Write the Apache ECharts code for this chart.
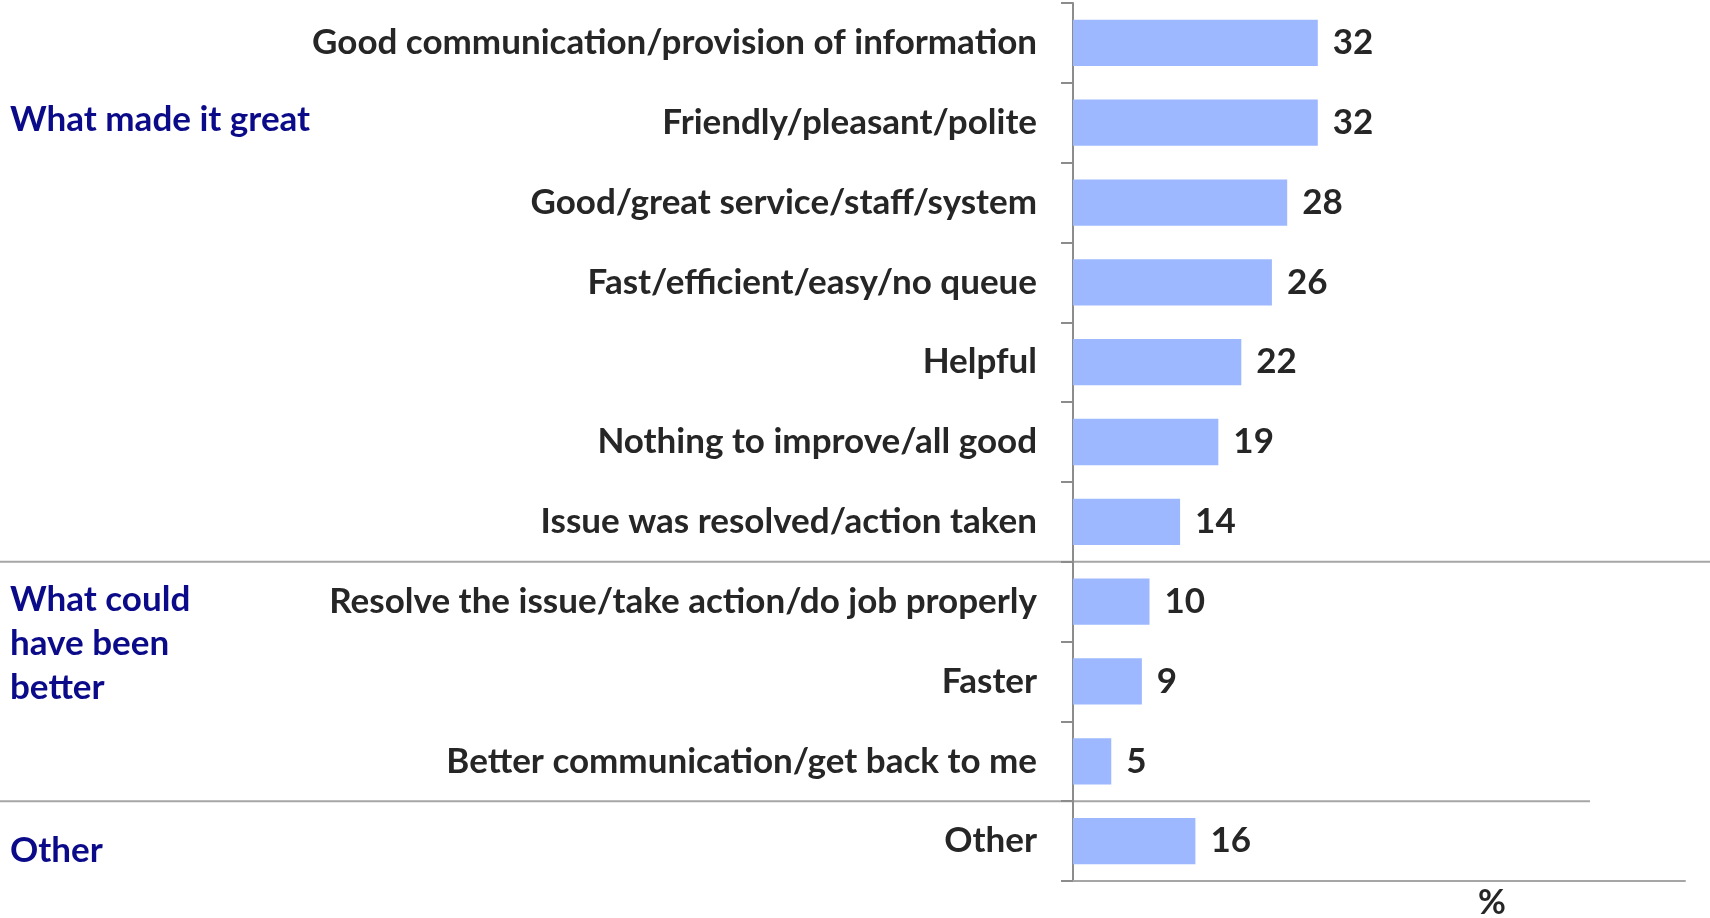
<!DOCTYPE html>
<html>
<head>
<meta charset="utf-8">
<title>What made it great</title>
<script src="https://cdn.jsdelivr.net/npm/echarts@6/dist/echarts.min.js"></script>
<style>
  html, body { margin: 0; padding: 0; background: #fff; }
  #chart { width: 1710px; height: 918px; }
</style>
</head>
<body>
<div id="chart"></div>
<script>
// categories, top to bottom
const categories = [
  'Good communication/provision of information',
  'Friendly/pleasant/polite',
  'Good/great service/staff/system',
  'Fast/efficient/easy/no queue',
  'Helpful',
  'Nothing to improve/all good',
  'Issue was resolved/action taken',
  'Resolve the issue/take action/do job properly',
  'Faster',
  'Better communication/get back to me',
  'Other'
];
const values = [32, 32, 28, 26, 22, 19, 14, 10, 9, 5, 16];

// group headings and the last category index of each group
const groupNames = ['What made it great', 'What could\nhave been\nbetter', 'Other'];
const groupEnds = [6, 9, 10];

const FONT = 'Lato, "Open Sans", sans-serif';
const textColor = '#262626';
const groupColor = '#0b0b8a';

const chart = echarts.init(document.getElementById('chart'));

const option = {
  animation: false,
  grid: {
    left: 1073,
    right: 25,
    top: 3,
    bottom: 37,
    containLabel: false
  },
  xAxis: {
    type: 'value',
    min: 0,
    max: 80,
    axisLine: { show: true, lineStyle: { color: '#a6a6a6', width: 2 } },
    axisTick: { show: false },
    axisLabel: { show: false },
    splitLine: { show: false }
  },
  yAxis: {
    type: 'category',
    inverse: true,
    data: categories,
    axisLine: { show: true, lineStyle: { color: '#8c8c8c', width: 2 } },
    axisTick: { show: true, length: 12, lineStyle: { color: '#8c8c8c', width: 2 } },
    axisLabel: {
      margin: 36,
      color: textColor,
      fontFamily: FONT,
      fontWeight: 'bold',
      fontSize: 35
    }
  },
  series: [{
    type: 'bar',
    data: values,
    barCategoryGap: '42%',
    itemStyle: { color: '#9db8fe' },
    label: {
      show: true,
      position: 'right',
      distance: 15,
      color: textColor,
      fontFamily: FONT,
      fontWeight: 'bold',
      fontSize: 35
    }
  }]
};

chart.setOption(option);

// separators between groups and group headings
function boundaryY(i) {
  const a = chart.convertToPixel({ yAxisIndex: 0 }, categories[i]);
  const b = chart.convertToPixel({ yAxisIndex: 0 }, categories[i + 1]);
  return (a + b) / 2;
}

const graphics = [];
graphics.push({
  type: 'line',
  shape: { x1: 0, y1: boundaryY(groupEnds[0]), x2: 1710, y2: boundaryY(groupEnds[0]) },
  style: { stroke: '#a6a6a6', lineWidth: 2 },
  silent: true
});
graphics.push({
  type: 'line',
  shape: { x1: 0, y1: boundaryY(groupEnds[1]), x2: 1590, y2: boundaryY(groupEnds[1]) },
  style: { stroke: '#a6a6a6', lineWidth: 2 },
  silent: true
});

const groupTop = [98, 578, 829];
groupNames.forEach((name, i) => {
  graphics.push({
    type: 'text',
    left: 10,
    top: groupTop[i],
    style: {
      text: name,
      fill: groupColor,
      font: 'bold 35px ' + FONT,
      lineHeight: 44
    }
  });
});

graphics.push({
  type: 'text',
  left: 1478,
  top: 886,
  style: {
    text: '%',
    fill: textColor,
    font: 'bold 34px ' + FONT
  }
});

chart.setOption({ graphic: graphics });
</script>
</body>
</html>
